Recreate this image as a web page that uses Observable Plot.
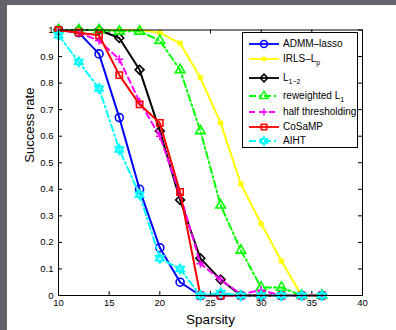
<!DOCTYPE html>
<html><head><meta charset="utf-8">
<script src="https://cdn.jsdelivr.net/npm/d3@7"></script>
<script src="https://cdn.jsdelivr.net/npm/@observablehq/plot@0.6"></script>
<style>
html,body{margin:0;padding:0;background:#62626b;}
#outer{position:relative;width:396px;height:330px;background:#62626b;overflow:hidden;}
#fig{position:absolute;left:7px;top:5px;width:389px;height:325px;background:#fff;}
#legend{position:absolute;left:235px;top:27px;width:114px;height:114px;border:1px solid #000;background:#fff;font:10px "Liberation Sans",Arial,sans-serif;color:#000;}
.row{position:absolute;left:0;height:14px;width:114px;}
.row svg{position:absolute;left:0;top:0;}
.row span{position:absolute;left:40px;top:0;line-height:14px;white-space:nowrap;}
sub{font-size:7px;vertical-align:-3px;line-height:0;}
</style></head>
<body><div id="outer"><div id="fig"><div id="legend"></div></div></div>
<script>
// ---- data ----
const sparsity = [10,12,14,16,18,20,22,24,26,28,30,32,34,36];
const admmLasso    = [1.00,0.99,0.91,0.67,0.40,0.18,0.05,0.00,0.00,0.00,0.00,0.00,0.00,0.00];
const irlsLp       = [1.00,1.00,1.00,1.00,1.00,0.99,0.95,0.82,0.65,0.42,0.27,0.13,0.00,0.00];
const l12          = [1.00,1.00,1.00,0.97,0.85,0.62,0.36,0.14,0.06,0.00,0.00,0.00,0.00,0.00];
const reweightedL1 = [1.00,1.00,1.00,0.995,0.995,0.96,0.85,0.62,0.34,0.17,0.03,0.03,0.00,0.00];
const halfThresh   = [1.00,0.99,0.96,0.89,0.73,0.60,0.38,0.12,0.06,0.005,0.02,0.00,0.00,0.00];
const cosamp       = [1.00,0.99,0.98,0.83,0.72,0.65,0.39,0.00,0.00,0.00,0.00,0.00,0.00,0.00];
const aiht         = [0.98,0.88,0.78,0.55,0.38,0.14,0.10,0.00,0.01,0.00,0.00,0.00,0.00,0.00];
const xTicks = [10,15,20,25,30,35,40];
const yTicks = [0,0.1,0.2,0.3,0.4,0.5,0.6,0.7,0.8,0.9,1];
const yTickLabels = ["0","0.1","0.2","0.3","0.4","0.5","0.6","0.7","0.8","0.9","1"];
const xLabel = "Sparsity";
const yLabel = "Success rate";

// custom symbols
const hexagram = {
  draw(context, size) {
    const r = Math.sqrt(size / Math.PI) * 1.15;
    for (const off of [-Math.PI/2, Math.PI/2]) {
      for (let i = 0; i < 3; i++) {
        const a = off + i * 2 * Math.PI / 3;
        const x = r * Math.cos(a), y = r * Math.sin(a);
        if (i === 0) context.moveTo(x, y); else context.lineTo(x, y);
      }
      context.closePath();
    }
  }
};
const plusSym = {
  draw(context, size) {
    const r = Math.sqrt(size / Math.PI);
    context.moveTo(-r, 0); context.lineTo(r, 0);
    context.moveTo(0, -r); context.lineTo(0, r);
  }
};
const starSym = {
  draw(context, size) {
    const r = Math.sqrt(size / Math.PI);
    const d = r * 0.72;
    context.moveTo(-r, 0); context.lineTo(r, 0);
    context.moveTo(0, -r); context.lineTo(0, r);
    context.moveTo(-d, -d); context.lineTo(d, d);
    context.moveTo(-d, d); context.lineTo(d, -d);
  }
};

const series = [
  {html: "ADMM–lasso", values: admmLasso, color: "#0000ff", dash: null, symbol: d3.symbolCircle, r: 4},
  {html: "IRLS–L<sub>p</sub>", values: irlsLp, color: "#ffff00", dash: null, symbol: starSym, r: 3},
  {html: "L<sub>1−2</sub>", values: l12, color: "#000000", dash: null, symbol: d3.symbolDiamond2, r: 4},
  {html: "reweighted L<sub>1</sub>", values: reweightedL1, color: "#00ff00", dash: "7,3,2,3", symbol: d3.symbolTriangle2, r: 4.6},
  {html: "half thresholding", values: halfThresh, color: "#ff00ff", dash: "6,4", symbol: plusSym, r: 4},
  {html: "CoSaMP", values: cosamp, color: "#ff0000", dash: null, symbol: d3.symbolSquare2, r: 4},
  {html: "AIHT", values: aiht, color: "#00ffff", dash: "7,3,2,3", symbol: hexagram, r: 4.2}
];

const marks = [];
for (const s of series) {
  const data = sparsity.map((x, i) => ({x, y: s.values[i]}));
  marks.push(Plot.line(data, {x: "x", y: "y", stroke: s.color, strokeWidth: 2, strokeDasharray: s.dash}));
  marks.push(Plot.dot(data, {x: "x", y: "y", stroke: s.color, fill: "none", strokeWidth: 1.6, symbol: () => s.symbol, r: s.r}));
}

const font = '"Liberation Sans", Arial, sans-serif';
const chart = Plot.plot({
  width: 389, height: 325,
  marginLeft: 51, marginRight: 34, marginTop: 24.5, marginBottom: 35,
  x: {domain: [10, 40]},
  y: {domain: [0, 1]},
  symbol: {type: "identity"},
  style: {fontFamily: font, background: "white", color: "black", overflow: "visible"},
  marks: [
    Plot.axisX({ticks: xTicks, tickSize: 0, tickPadding: 4, fontSize: 9.5, label: null}),
    Plot.axisY({ticks: yTicks, tickSize: 0, tickPadding: 5, fontSize: 9.5, label: null, tickFormat: d => yTickLabels[yTicks.indexOf(d)]}),
    Plot.ruleX(xTicks, {x: d => d, y1: 0, y2: 0.015, stroke: "black"}),
    Plot.ruleX(xTicks, {x: d => d, y1: 1, y2: 0.985, stroke: "black"}),
    Plot.ruleY(yTicks, {y: d => d, x1: 10, x2: 10.4, stroke: "black"}),
    Plot.ruleY(yTicks, {y: d => d, x1: 40, x2: 39.6, stroke: "black"}),
    Plot.text([xLabel], {frameAnchor: "bottom", dy: 24, fontSize: 13.5, lineAnchor: "middle"}),
    Plot.text([yLabel], {frameAnchor: "left", dx: -29, rotate: -90, fontSize: 13, lineAnchor: "middle"}),
    ...marks,
    Plot.frame({stroke: "black", strokeWidth: 1})
  ]
});
document.getElementById("fig").prepend(chart);
chart.style.position = "absolute"; chart.style.left = "0"; chart.style.top = "0";

// legend
const legend = document.getElementById("legend");
const rowY = [10.5, 25.5, 44.5, 62.5, 79, 94, 107.5];
series.forEach((s, i) => {
  const row = document.createElement("div");
  row.className = "row";
  row.style.top = (rowY[i] - 7) + "px";
  const svg = d3.create("svg").attr("width", 40).attr("height", 14);
  svg.append("line").attr("x1", 6).attr("x2", 36).attr("y1", 7).attr("y2", 7)
    .attr("stroke", s.color).attr("stroke-width", 1.8).attr("stroke-dasharray", s.dash);
  svg.append("path").attr("transform", "translate(21,7)")
    .attr("d", d3.symbol(s.symbol, Math.PI * s.r * s.r * 0.75)())
    .attr("fill", "none").attr("stroke", s.color).attr("stroke-width", 1.5);
  row.appendChild(svg.node());
  const span = document.createElement("span");
  span.innerHTML = s.html;
  row.appendChild(span);
  legend.appendChild(row);
});
</script>
</body></html>
